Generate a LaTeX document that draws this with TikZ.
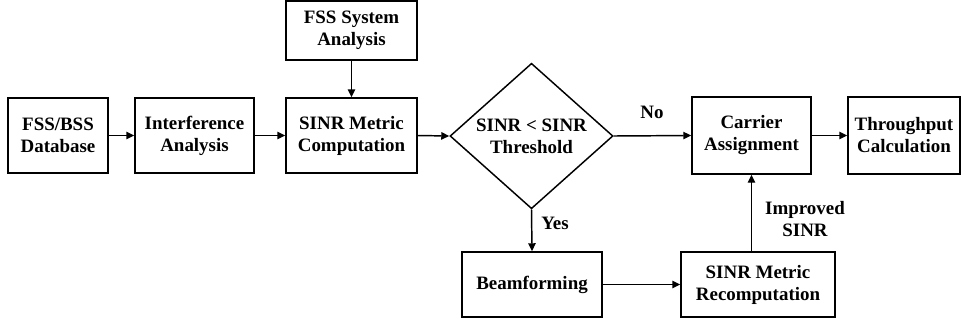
\documentclass[tikz,border=0pt]{standalone}
\usepackage{fontspec}
\setmainfont{Liberation Serif}
\usetikzlibrary{shapes.geometric,arrows.meta}
\begin{document}
\begin{tikzpicture}[x=0.75pt,y=-0.75pt,
  every node/.style={font=\fontsize{14.2}{16.5}\selectfont\bfseries, align=center},
  blk/.style={draw, line width=1.1pt, inner sep=0pt},
  dia/.style={draw, diamond, line width=1.1pt, inner sep=0pt, minimum width=163*0.75pt, minimum height=122*0.75pt},
  arr/.style={line width=1.1pt, -{Triangle[length=6pt,width=5.5pt]}},
  lbl/.style={inner sep=0pt}]
\useasboundingbox (0,0) rectangle (966,326);
\node[blk, minimum width=100*0.75pt, minimum height=75*0.75pt] (db) at (58,135.5) {FSS/BSS\\Database};
\node[blk, minimum width=119*0.75pt, minimum height=75*0.75pt] (ia) at (194.5,135.5) {Interference\\Analysis};
\node[blk, minimum width=131*0.75pt, minimum height=75*0.75pt] (smc) at (351.5,135.5) {SINR Metric\\Computation};
\node[blk, minimum width=131*0.75pt, minimum height=59*0.75pt] (fss) at (351.5,30.5) {FSS System\\Analysis};
\node[dia] (dec) at (531.5,136) {SINR < SINR\\Threshold};
\node[blk, minimum width=119*0.75pt, minimum height=77*0.75pt] (ca) at (751.5,135.5) {Carrier\\Assignment};
\node[blk, minimum width=112*0.75pt, minimum height=77*0.75pt] (tc) at (904,135.5) {Throughput\\Calculation};
\node[blk, minimum width=140*0.75pt, minimum height=65*0.75pt] (bf) at (532,284.5) {Beamforming};
\node[blk, minimum width=154*0.75pt, minimum height=65*0.75pt] (smr) at (758,284.5) {SINR Metric\\Recomputation};
\node[lbl] (no) at (652,112) {No};
\node[lbl] (yes) at (555,223) {Yes};
\node[lbl] (imp) at (805,219) {Improved\\SINR};
\draw[arr] (db) -- (ia);
\draw[arr] (ia) -- (smc);
\draw[arr] (fss) -- (smc);
\draw[arr] (smc.east) -- (dec.west);
\draw[arr] (dec.east) -- (ca.west);
\draw[arr] (ca) -- (tc);
\draw[arr] (dec.south) -- (bf.north);
\draw[arr] (bf) -- (smr);
\draw[arr] (ca.south |- smr.north) -- (ca.south);
\end{tikzpicture}
\end{document}
